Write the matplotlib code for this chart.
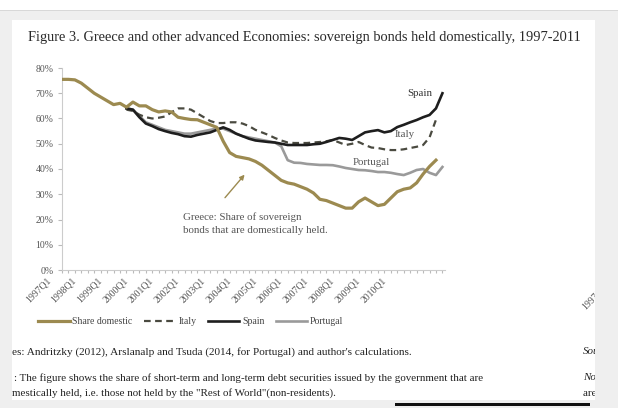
import numpy as np
import matplotlib.pyplot as plt
import matplotlib.transforms as mtransforms
from matplotlib.patches import Rectangle

plt.rcParams['font.family'] = ['Liberation Serif', 'DejaVu Serif']

# quarterly data, 1997Q1 = 0
greece = [75.5, 75.5, 75.3, 74, 72, 70, 68.5, 67, 65.5, 66, 64.5, 66.5, 65, 65, 63.5,
          62.6, 63, 62.6, 60.5, 60, 59.6, 59.5, 58.5, 57.5, 56.5, 51, 46.5, 45, 44.5, 44,
          43, 41.5, 39.5, 37.5, 35.5, 34.5, 34, 33, 32, 30.5, 28, 27.5, 26.5, 25.5, 24.5,
          24.5, 27, 28.5, 27, 25.5, 26, 28.5, 31, 32, 32.5, 34.5, 38, 41, 43.5]
spain = [64, 63.5, 60.5, 58, 57, 55.8, 55, 54.3, 53.8, 53, 52.8, 53.5, 54, 54.5, 55.5,
         56.5, 55.5, 54, 53, 52, 51.3, 51, 50.7, 50.5, 50, 49.5, 49.5, 49.5, 49.5, 49.8,
         50, 50.7, 51.5, 52.3, 52, 51.5, 53, 54.5, 55, 55.4, 54.5, 55, 56.6, 57.5, 58.5,
         59.4, 60.5, 61.4, 64, 70]
italy = [63.5, 63, 61.5, 60.5, 60, 60.3, 60.8, 62.5, 64, 64, 63.5, 62, 60.5, 59, 58.2,
         58.2, 58.5, 58.5, 58, 57, 55.5, 54.5, 53.5, 52.3, 51.3, 50.5, 50.3, 50.3, 50.3,
         50.5, 50.7, 51, 51.5, 50.5, 49.5, 50, 50.7, 49.5, 48.5, 48.3, 47.8, 47.5, 47.5,
         47.8, 48.3, 48.8, 49.5, 52.5, 59.5]
portugal = [64, 63.5, 61, 58.5, 57.5, 56.5, 55.5, 55, 54.5, 54, 54, 54.5, 55, 55.5, 56,
            56, 55, 54, 53, 52.5, 52, 51.5, 51, 50.5, 49, 43.5, 42.5, 42.4, 42, 41.8,
            41.6, 41.6, 41.5, 41, 40.4, 40, 39.6, 39.5, 39.2, 38.8, 38.8, 38.5, 38, 37.6,
            38.5, 39.6, 40, 38.5, 37.6, 40.8]
start_others = 10
years = list(range(1997, 2011))
tick_labels = [f'{y}Q1' for y in years]

fig = plt.figure(figsize=(6.18, 4.08), dpi=100)
W, H = 618, 408

# screenshot frame
fig.patches.append(Rectangle((0, 0), 1, 1 - 10 / H, transform=fig.transFigure,
                             facecolor='#efefef', edgecolor='none', zorder=-3))
fig.patches.append(Rectangle((0, 1 - 11 / H), 1, 1.5 / H, transform=fig.transFigure,
                             facecolor='#d8d8d8', edgecolor='none', zorder=-2))
fig.patches.append(Rectangle((12 / W, 8 / H), (595 - 12) / W, (400 - 20) / H,
                             transform=fig.transFigure, facecolor='white',
                             edgecolor='none', zorder=-1))

ax = fig.add_axes([62 / W, 1 - 270 / H, 383 / W, 202 / H])
ax.set_facecolor('none')

x_g = np.arange(len(greece))
x_o = np.arange(start_others, start_others + len(spain))
x_i = np.arange(start_others, start_others + len(italy))

ax.plot(x_o, portugal, color='#9a9a9a', lw=1.9, label='Portugal', zorder=2)
ax.plot(x_i, italy, color='#4a4a40', lw=1.6, ls=(0, (3, 2)), label='Italy', zorder=3)
ax.plot(x_o, spain, color='#1e1e1e', lw=1.9, label='Spain', zorder=4)
ax.plot(x_g, greece, color='#9c8a50', lw=2.3, label='Share domestic', zorder=5)

ax.set_xlim(0, 59.4)
ax.set_ylim(0, 80)
ax.set_yticks(range(0, 81, 10))
ax.set_yticklabels([f'{v}%' for v in range(0, 81, 10)])
ax.set_xticks(range(0, 60))
ax.set_xticklabels(['' if i % 4 else tick_labels[i // 4] if i // 4 < len(tick_labels) else ''
                    for i in range(60)])
ax.tick_params(axis='x', length=2.5, color='#bbbbbb', labelsize=7, labelcolor='#555555',
               pad=2)
ax.tick_params(axis='y', length=3, color='#bbbbbb', labelsize=7, labelcolor='#555555',
               pad=3)
for lbl in ax.get_xticklabels():
    lbl.set_rotation(45)
    lbl.set_ha('right')
    lbl.set_va('top')
    lbl.set_rotation_mode('anchor')
    lbl.set_transform(lbl.get_transform() +
                      mtransforms.ScaledTranslation(-16 / 100, 0, fig.dpi_scale_trans))
for s in ['top', 'right']:
    ax.spines[s].set_visible(False)
for s in ['left', 'bottom']:
    ax.spines[s].set_color('#cccccc')
    ax.spines[s].set_linewidth(0.8)

ax.text(55.5, 70, 'Spain', fontsize=7.8, color='#333333', ha='center', va='center')
ax.text(53.2, 53.5, 'Italy', fontsize=7.8, color='#555555', ha='center', va='center')
ax.text(48, 42.4, 'Portugal', fontsize=7.8, color='#555555', ha='center', va='center')
ax.annotate('', xy=(28.6, 38.6), xytext=(25.0, 27.8),
            arrowprops=dict(arrowstyle='-|>', color='#9c8a50', lw=1.0, mutation_scale=7))
ax.text(18.8, 18.3, 'Greece: Share of sovereign\nbonds that are domestically held.',
        fontsize=7.8, color='#555555', ha='left', va='center', linespacing=1.6)

leg = fig.legend(loc='center', bbox_to_anchor=(191 / W, 1 - 322 / H), ncol=4,
                 frameon=False, fontsize=7, handlelength=3.2, columnspacing=1.2,
                 handletextpad=0.3,
                 handles=[ax.lines[3], ax.lines[1], ax.lines[2], ax.lines[0]])
for t in leg.get_texts():
    t.set_color('#444444')

fig.text(28 / W, 1 - 38 / H,
         'Figure 3. Greece and other advanced Economies: sovereign bonds held '
         'domestically, 1997-2011', fontsize=10.4, color='#2a2a2a', ha='left', va='center')

fig.text(12 / W, 1 - 352 / H,
         "es: Andritzky (2012), Arslanalp and Tsuda (2014, for Portugal) and author's "
         "calculations.", fontsize=8.1, color='#222222', ha='left', va='center')
fig.text(14 / W, 1 - 378 / H,
         ': The figure shows the share of short-term and long-term debt securities issued '
         'by the government that are', fontsize=7.9, color='#222222', ha='left', va='center')
fig.text(12 / W, 1 - 393 / H,
         'mestically held, i.e. those not held by the "Rest of World"(non-residents).',
         fontsize=7.9, color='#222222', ha='left', va='center')
fig.text(583 / W, 1 - 352 / H, 'Sources', fontsize=7.9, style='italic', color='#222222',
         ha='left', va='center')
fig.text(583 / W, 1 - 378 / H, 'Notes', fontsize=7.9, style='italic', color='#222222',
         ha='left', va='center')
fig.text(583 / W, 1 - 393 / H, 'are do', fontsize=7.9, color='#222222', ha='left',
         va='center')
fig.text(602 / W, 1 - 283 / H, '1997Q1', fontsize=7, color='#555555', rotation=45,
         ha='right', va='top', rotation_mode='anchor')

# right grey margin and bottom bar of the screenshot
fig.patches.append(Rectangle((595 / W, 0), 23 / W, 1 - 11 / H, transform=fig.transFigure,
                             facecolor='#efefef', edgecolor='none', zorder=5))
fig.patches.append(Rectangle((395 / W, 2 / H), 195 / W, 3 / H, transform=fig.transFigure,
                             facecolor='#111111', edgecolor='none', zorder=6))

fig.savefig('out.png', dpi=100)
